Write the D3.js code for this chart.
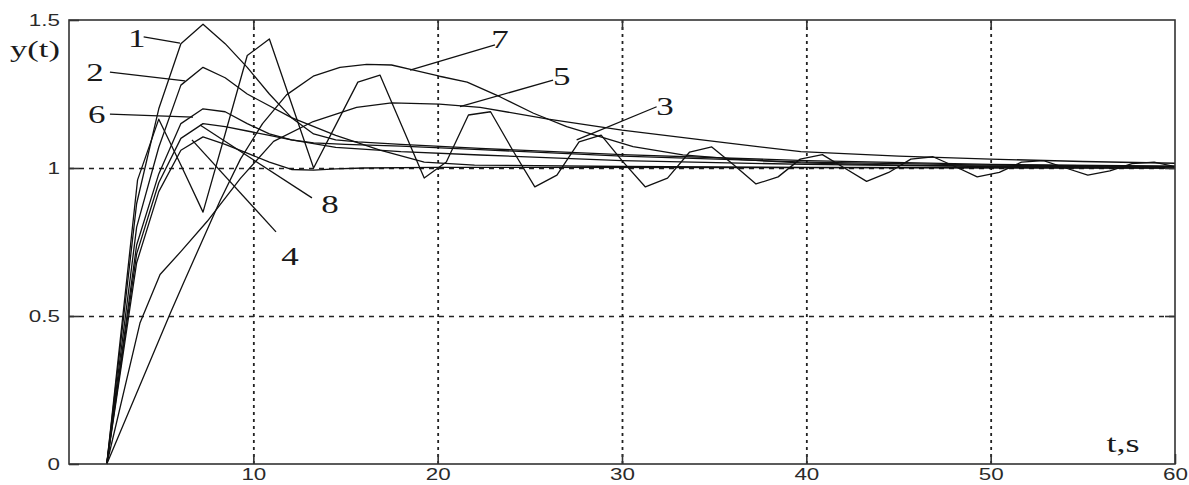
<!DOCTYPE html>
<html>
<head>
<meta charset="utf-8">
<script src="https://cdn.jsdelivr.net/npm/d3@7"></script>
<style>
  html, body { margin: 0; padding: 0; background: #fff; }
  svg { display: block; }
</style>
</head>
<body>
<svg id="chart" width="1189" height="485"></svg>
<script>
// ---------- data ----------
const xTicks = [10, 20, 30, 40, 50, 60];
const yTicks = [0, 0.5, 1, 1.5];
const yTickLabels = ["0", "0.5", "1", "1.5"];
const xGrid = [10, 20, 30, 40, 50];
const yGrid = [0.5, 1];

const t1 = [2.05, 3.67, 4.87, 6.07, 7.27, 8.47, 9.67, 10.87, 12.07, 13.27, 14.47, 15.67, 18, 22.3, 30, 40, 50, 60];
const y1 = [0, 0.88, 1.2, 1.42, 1.486, 1.42, 1.34, 1.25, 1.17, 1.115, 1.095, 1.088, 1.08, 1.066, 1.045, 1.025, 1.012, 1.006];

const t2 = [2.05, 3.67, 4.87, 6.07, 7.27, 8.47, 9.67, 12.07, 14.47, 16.87, 19.27, 22, 30, 40, 60];
const y2 = [0, 0.80, 1.07, 1.28, 1.34, 1.305, 1.25, 1.17, 1.11, 1.06, 1.02, 1.01, 1.005, 1.002, 1.0];

const t3 = [2.05, 3.72, 4.87, 6.07, 7.27, 8.47, 9.67, 10.87, 12.07, 13.27, 14.47, 15.67, 16.87, 18.07, 19.27, 20.47, 21.67, 22.87, 24.07, 25.27, 26.47, 27.67, 28.87, 30.07, 31.27, 32.47, 33.67, 34.87, 36.07, 37.27, 38.47, 39.67, 40.87, 42.07, 43.27, 44.47, 45.67, 46.87, 48.07, 49.27, 50.47, 51.67, 52.87, 54.07, 55.27, 56.47, 57.67, 58.87, 60];
const y3 = [0, 0.96, 1.165, 1.01, 0.851, 1.115, 1.38, 1.436, 1.218, 1.0, 1.145, 1.29, 1.314, 1.14, 0.966, 1.02, 1.179, 1.19, 1.06, 0.936, 0.976, 1.088, 1.111, 1.02, 0.936, 0.966, 1.054, 1.071, 1.01, 0.946, 0.97, 1.03, 1.045, 1.0, 0.955, 0.985, 1.03, 1.038, 1.005, 0.97, 0.985, 1.02, 1.025, 1.0, 0.976, 0.99, 1.015, 1.02, 1.005];

const t4 = [2.05, 3.67, 4.87, 6.07, 7.27, 8.47, 9.67, 10.87, 12.07, 13.27, 14.47, 16, 20, 60];
const y4 = [0, 0.68, 0.92, 1.06, 1.105, 1.08, 1.05, 1.02, 0.995, 0.993, 0.997, 1.0, 1.002, 1.0];

const t5 = [2.05, 3.85, 4.94, 6.1, 7.5, 9.3, 11.1, 13.25, 15.6, 17.5, 20.1, 22.3, 26, 30, 35, 39.7, 45, 50, 55, 60];
const y5 = [0, 0.476, 0.64, 0.72, 0.82, 0.965, 1.09, 1.157, 1.205, 1.22, 1.216, 1.205, 1.165, 1.128, 1.09, 1.055, 1.04, 1.03, 1.022, 1.016];

const t6 = [2.05, 3.67, 4.87, 6.07, 7.27, 8.47, 9.67, 10.87, 12.07, 13.27, 15, 18, 22.3, 30, 40, 50, 60];
const y6 = [0, 0.74, 0.98, 1.15, 1.2, 1.19, 1.15, 1.115, 1.095, 1.085, 1.08, 1.074, 1.062, 1.04, 1.02, 1.01, 1.005];

const t7 = [2.05, 5.5, 6.2, 8.2, 9.3, 10.5, 11.8, 13.25, 14.7, 16.15, 17.5, 18.7, 20.1, 21.6, 23.4, 25.2, 27, 28.8, 30.6, 33.3, 36.5, 39.7, 45, 50, 60];
const y7 = [0, 0.51, 0.61, 0.89, 1.03, 1.15, 1.247, 1.31, 1.34, 1.35, 1.348, 1.331, 1.31, 1.29, 1.24, 1.185, 1.14, 1.106, 1.072, 1.044, 1.028, 1.017, 1.01, 1.006, 1.003];

const t8 = [2.05, 3.67, 4.87, 6.07, 7.27, 8.47, 9.67, 10.87, 12.07, 14.47, 18, 22.3, 30, 40, 50, 60];
const y8 = [0, 0.71, 0.95, 1.10, 1.15, 1.14, 1.125, 1.11, 1.095, 1.07, 1.055, 1.044, 1.025, 1.012, 1.005, 1.002];

// curve labels: text, label position (t, y), leader start (t, y), leader end on curve (t, y)
const labelNames = ["1", "2", "6", "8", "4", "7", "5", "3"];
const labelT = [3.67, 1.41, 1.50, 14.16, 11.99, 23.38, 26.73, 32.33];
const labelY = [1.438, 1.32, 1.179, 0.875, 0.700, 1.432, 1.308, 1.207];
const leadT0 = [4.05, 2.22, 2.22, 13.18, 11.23, 23.11, 26.26, 31.88];
const leadY0 = [1.443, 1.324, 1.182, 0.899, 0.784, 1.416, 1.297, 1.207];
const leadT1 = [6.02, 6.29, 6.73, 7.11, 6.67, 18.5, 21.21, 27.54];
const leadY1 = [1.422, 1.294, 1.172, 1.145, 1.095, 1.331, 1.207, 1.095];

// ---------- chart ----------
const svg = d3.select("#chart");
const L = 69, R = 1175, T = 20, B = 464;
const x = d3.scaleLinear().domain([0, 60]).range([L, R]);
const y = d3.scaleLinear().domain([0, 1.5]).range([B, T]);

const axisColor = "#333";
const textColor = "#2a2a2a";
const serif = "'Liberation Serif', 'Times New Roman', serif";
const sans = "'Liberation Sans', Arial, sans-serif";
const stretch = 1.4;   // reference glyphs are horizontally widened

// grid lines
svg.append("g").attr("transform", `translate(0,${B})`)
  .call(d3.axisBottom(x).tickValues(xGrid).tickSize(-(B - T)).tickFormat(""))
  .call(g => g.select(".domain").remove())
  .call(g => g.selectAll("line").attr("stroke", "#222").attr("stroke-width", 1.8).attr("stroke-dasharray", "3,4"));
svg.append("g").attr("transform", `translate(${L},0)`)
  .call(d3.axisLeft(y).tickValues(yGrid).tickSize(-(R - L)).tickFormat(""))
  .call(g => g.select(".domain").remove())
  .call(g => g.selectAll("line").attr("stroke", "#222").attr("stroke-width", 1.3).attr("stroke-dasharray", "5,5"));

// curves
const line = d3.line().x(d => x(d[0])).y(d => y(d[1]));
const series = [[t1, y1], [t2, y2], [t3, y3], [t4, y4], [t5, y5], [t6, y6], [t7, y7], [t8, y8]];
series.forEach(([ts, ys]) => {
  svg.append("path")
    .datum(ts.map((t, i) => [t, ys[i]]))
    .attr("d", line)
    .attr("fill", "none")
    .attr("stroke", "#111")
    .attr("stroke-width", 1.3)
    .attr("stroke-linejoin", "round");
});

// leaders and labels
labelNames.forEach((n, i) => {
  svg.append("line")
    .attr("x1", x(leadT0[i])).attr("y1", y(leadY0[i]))
    .attr("x2", x(leadT1[i])).attr("y2", y(leadY1[i]))
    .attr("stroke", "#111").attr("stroke-width", 1.3);
  svg.append("text")
    .attr("transform", `translate(${x(labelT[i])},${y(labelY[i])}) scale(${stretch},1)`)
    .attr("text-anchor", "middle").attr("dominant-baseline", "central")
    .attr("font-family", serif)
    .attr("font-size", 25).attr("fill", "#1a1a1a")
    .text(n);
});

// axes with inward ticks
const fmtY = d => yTickLabels[yTicks.indexOf(d)];
svg.append("g").attr("transform", `translate(0,${B})`)
  .call(d3.axisBottom(x).tickValues(xTicks).tickSizeInner(-10).tickSizeOuter(0).tickPadding(5).tickFormat(d3.format("d")))
  .call(g => g.select(".domain").remove())
  .call(g => g.selectAll("line").attr("stroke", axisColor).attr("stroke-width", 1.6))
  .call(g => g.selectAll("text").attr("font-family", sans).attr("font-size", 16).attr("fill", textColor)
    .attr("transform", `scale(${stretch},1)`));
svg.append("g").attr("transform", `translate(0,${T})`)
  .call(d3.axisTop(x).tickValues(xGrid).tickSizeInner(-10).tickSizeOuter(0).tickFormat(""))
  .call(g => g.select(".domain").remove())
  .call(g => g.selectAll("line").attr("stroke", axisColor).attr("stroke-width", 1.6));
svg.append("g").attr("transform", `translate(${L},0)`)
  .call(d3.axisLeft(y).tickValues(yTicks).tickSizeInner(-10).tickSizeOuter(0).tickPadding(6.5).tickFormat(fmtY))
  .call(g => g.select(".domain").remove())
  .call(g => g.selectAll("line").attr("stroke", axisColor).attr("stroke-width", 1.6))
  .call(g => g.selectAll("text").attr("font-family", sans).attr("font-size", 16).attr("fill", textColor)
    .attr("transform", `scale(${stretch},1)`));
svg.append("g").attr("transform", `translate(${R},0)`)
  .call(d3.axisRight(y).tickValues(yGrid).tickSizeInner(-10).tickSizeOuter(0).tickFormat(""))
  .call(g => g.select(".domain").remove())
  .call(g => g.selectAll("line").attr("stroke", axisColor).attr("stroke-width", 1.6));

// frame
svg.append("rect")
  .attr("x", L).attr("y", T).attr("width", R - L).attr("height", B - T)
  .attr("fill", "none").attr("stroke", axisColor).attr("stroke-width", 1.6);

// axis titles
svg.append("text").attr("transform", `translate(35,57) scale(1.5,1)`).attr("text-anchor", "middle")
  .attr("font-family", serif).attr("font-size", 23).attr("fill", "#1a1a1a")
  .text("y(t)");
svg.append("text").attr("transform", `translate(1123,452) scale(1.45,1)`).attr("text-anchor", "middle")
  .attr("font-family", serif).attr("font-size", 25).attr("fill", "#1a1a1a")
  .text("t,s");
</script>
</body>
</html>
